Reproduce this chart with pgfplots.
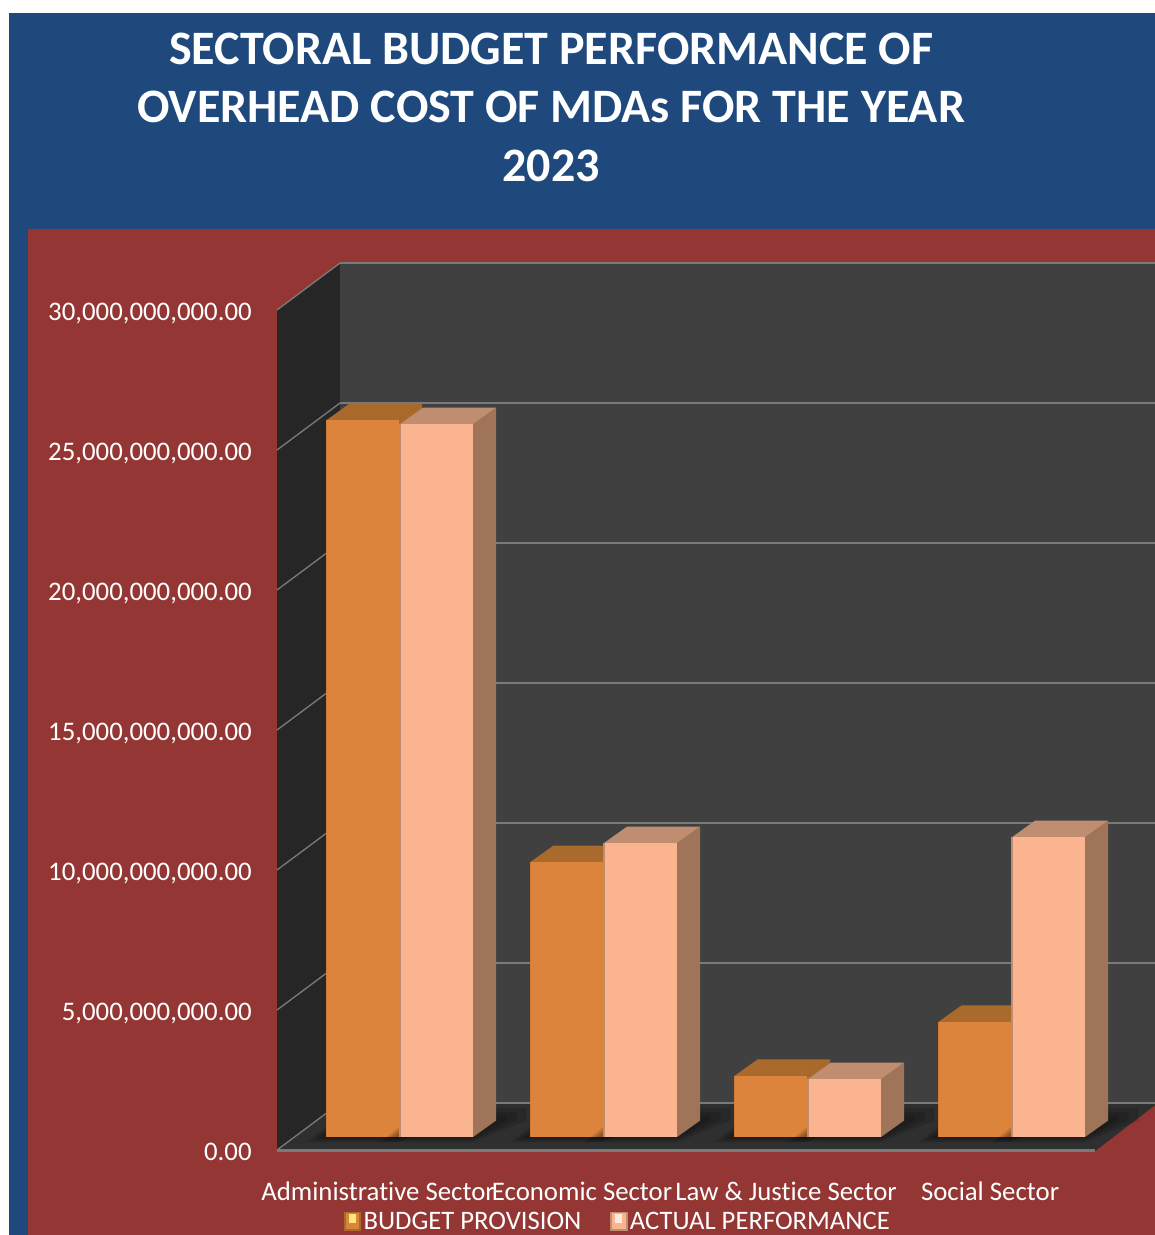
\documentclass[border=0pt]{standalone}
\usepackage{fontspec}
\setmainfont[Ligatures=NoCommon]{Carlito}
\usepackage{pgfplots}
\pgfplotsset{compat=1.18}

\definecolor{panelblue}{HTML}{1F497D}
\definecolor{panelred}{HTML}{943634}
\definecolor{backwall}{HTML}{404040}
\definecolor{sidewall}{HTML}{262626}
\definecolor{floorcol}{HTML}{2F2F2F}
\definecolor{gridcol}{HTML}{7A7A7A}
\definecolor{afront}{HTML}{DC843C}
\definecolor{atop}{HTML}{A96A2B}
\definecolor{aside}{HTML}{A96A2B}
\definecolor{aedge}{HTML}{D07A35}
\definecolor{bfront}{HTML}{FBB490}
\definecolor{btop}{HTML}{BF8E71}
\definecolor{bside}{HTML}{A07459}
\definecolor{bedge}{HTML}{C08C70}

% x in category units (204 px), y in thousand millions inside the macro
\newcommand\depx{0.113}
\newcommand\depy{0.589}
\newcommand\baseoff{0.464}
% one layer of the floor shadow, #1 = how far it spreads
\newcommand\shadowlayer[1]{%
  \pgfmathsetmacro\xs{\xa-0.02-#1*0.5}%
  \pgfmathsetmacro\xu{\xc+#1}%
  \pgfmathsetmacro\ylow{\baseoff-#1*1.2}%
  \pgfmathsetmacro\yshad{\ybb+#1*3}%
  \addplot[fill=black,fill opacity=0.13,draw=none,forget plot] coordinates
    {(\xs,\ylow e9) (\xb,\ylow e9) (\xu,\ybb e9) (\xu,\yshad e9) (\xd,\yshad e9)} --cycle;
}
% #1 left edge, #2 width, #3 value (x 10^9), #4 colour prefix
\newcommand\threedbar[4]{%
  \pgfmathsetmacro\xa{#1}%
  \pgfmathsetmacro\xb{\xa+#2}%
  \pgfmathsetmacro\xc{\xb+\depx}%
  \pgfmathsetmacro\xd{\xa+\depx}%
  \pgfmathsetmacro\yt{#3+\baseoff}%
  \pgfmathsetmacro\ytb{\yt+\depy}%
  \pgfmathsetmacro\ybb{\baseoff+\depy}%
  \shadowlayer{0.05}\shadowlayer{0.1}\shadowlayer{0.15}%
  \addplot[fill=#4side,draw=none,forget plot] coordinates
    {(\xb,\baseoff e9) (\xb,\yt e9) (\xc,\ytb e9) (\xc,\ybb e9)} --cycle;
  \addplot[fill=#4top,draw=none,forget plot] coordinates
    {(\xa,\yt e9) (\xd,\ytb e9) (\xc,\ytb e9) (\xb,\yt e9)} --cycle;
  \addplot[fill=#4front,draw=none,forget plot] coordinates
    {(\xa,\baseoff e9) (\xa,\yt e9) (\xb,\yt e9) (\xb,\baseoff e9)} --cycle;
  \addplot[draw=#4edge,line width=1.2pt,forget plot] coordinates
    {(\xa,\baseoff e9) (\xa,\yt e9)};
}

\begin{document}
\begin{tikzpicture}
  \path[use as bounding box] (0pt,0pt) rectangle (866.25pt,-926.25pt);
  \begin{scope}[x=0.75pt,y=-0.75pt]
    \fill[white] (0,0) rectangle (1155,1235);
    \fill[panelblue] (9,13) rectangle (1155,1235);
    \fill[panelred] (28,229) rectangle (1155,1235);
  \end{scope}
  \begin{axis}[
      at={(207.75pt,-862.5pt)},
      anchor=south west,
      scale only axis,
      width=612pt,
      height=630pt,
      xmin=-0.5,
      xmax=3.5,
      ymin=0,
      ymax=30e9,
      clip=false,
      axis line style={draw=none},
      major tick length=0pt,
      xtick={0,1,2,3},
      xticklabels={Administrative Sector,Economic Sector,Law \& Justice Sector,Social Sector},
      ytick={0,5e9,10e9,15e9,20e9,25e9,30e9},
      scaled y ticks=false,
      /pgf/number format/.cd,fixed,fixed zerofill,precision=2,1000 sep={,},assume math mode=true,
      /pgfplots/.cd,
      tick label style={font=\fontsize{20.1}{24}\selectfont,text=white},
      xticklabel style={anchor=base,yshift=-37.5pt,xshift=-0.7pt},
      yticklabel style={xshift=-15.5pt,yshift=-3pt,text height=12.7pt,text depth=2.6pt},
      title={SECTORAL BUDGET PERFORMANCE OF\\OVERHEAD COST OF MDAs FOR THE YEAR\\2023},
      title style={at={(rel axis cs:0.336,1.232)},anchor=center,align=center,text=white,
        font=\fontsize{36}{43.9}\selectfont\bfseries},
      legend columns=2,
      legend style={at={(axis cs:1.172,-2.55e9)},anchor=center,draw=none,fill=none,text=white,
        font=\fontsize{20}{24}\selectfont,
        /tikz/every even column/.append style={column sep=19.5pt}},
      legend cell align=left,
    ]
    % walls and floor
    \addplot[fill=sidewall,draw=none,forget plot] coordinates
      {(-0.5,30e9) (-0.191,31.679e9) (-0.191,1.679e9) (-0.5,0)} --cycle;
    \addplot[fill=backwall,draw=none,forget plot] coordinates
      {(-0.191,31.679e9) (3.804,31.679e9) (3.804,1.679e9) (-0.191,1.679e9)} --cycle;
    \addplot[fill=floorcol,draw=none,forget plot] coordinates
      {(-0.5,0) (-0.191,1.679e9) (3.804,1.679e9) (3.804,1.6e9) (3.51,-0.04e9) (-0.5,-0.04e9)} --cycle;
    % grid lines along side wall and back wall
    \pgfplotsinvokeforeach{0,5,10,15,20,25,30}{
      \pgfmathsetmacro\yback{#1+1.679}
      \addplot[draw=gridcol,line width=1pt,forget plot] coordinates
        {(-0.5,#1e9) (-0.191,\yback e9)};
      \addplot[draw=gridcol,line width=1.7pt,forget plot] coordinates
        {(-0.191,\yback e9) (3.804,\yback e9)};
    }
    \addplot[draw=gridcol,line width=2.4pt,forget plot] coordinates {(-0.5,-0.03e9) (3.51,-0.03e9)};
    % budget provision
    \threedbar{-0.258}{0.356}{25.60}{a}
    \threedbar{0.742}{0.356}{9.82}{a}
    \threedbar{1.742}{0.356}{2.18}{a}
    \threedbar{2.742}{0.356}{4.11}{a}
    % actual performance
    \threedbar{0.103}{0.358}{25.46}{b}
    \threedbar{1.103}{0.358}{10.50}{b}
    \threedbar{2.103}{0.358}{2.07}{b}
    \threedbar{3.103}{0.358}{10.71}{b}
    % legend
    \addlegendimage{legend image code/.code={
      \fill[aside] (0pt,-7pt) rectangle (12.5pt,7pt);
      \fill[afront] (1.5pt,-5.5pt) rectangle (11pt,6pt);
      \fill[orange!40!yellow!50!white] (4pt,-1pt) rectangle (8.5pt,5pt);
    }}
    \addlegendentry{BUDGET PROVISION}
    \addlegendimage{legend image code/.code={
      \fill[btop] (0pt,-7pt) rectangle (12.5pt,7pt);
      \fill[bfront] (1.5pt,-5.5pt) rectangle (11pt,6pt);
      \fill[white!70!bfront] (4pt,-1pt) rectangle (8.5pt,5pt);
    }}
    \addlegendentry{ACTUAL PERFORMANCE}
  \end{axis}
\end{tikzpicture}
\end{document}
